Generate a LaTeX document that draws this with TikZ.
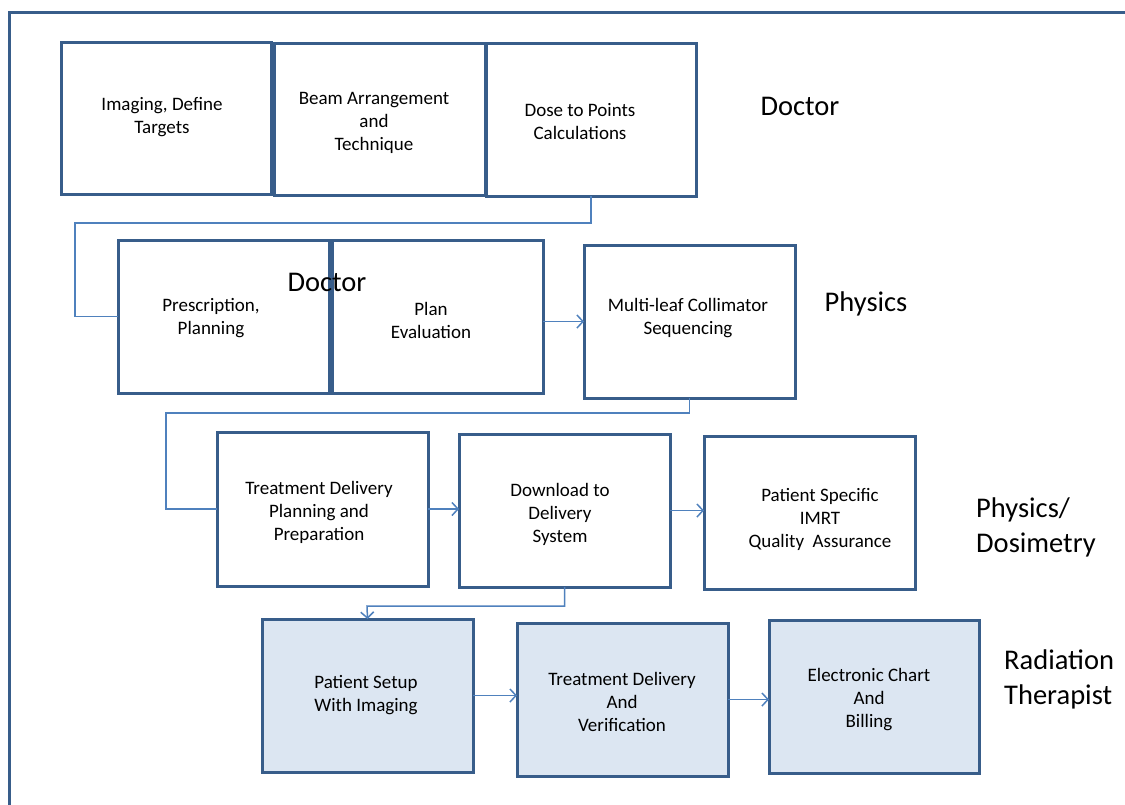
\documentclass[tikz,border=0pt]{standalone}
\usepackage{fontspec}
\setmainfont{Carlito}
\usetikzlibrary{arrows.meta}
\definecolor{boxline}{RGB}{56,93,138}
\definecolor{connline}{RGB}{79,129,189}
\definecolor{boxfill}{RGB}{220,230,242}
\tikzset{
  stagebox/.style={draw=boxline, line width=3pt, fill=white, inner sep=0pt, outer sep=0pt},
  shaded/.style={stagebox, fill=boxfill},
  boxtext/.style={align=center, inner sep=0pt, font=\fontsize{19}{23}\selectfont},
  role/.style={align=left, inner sep=0pt, font=\fontsize{28.5}{35}\selectfont},
  conn/.style={draw=connline, line width=1.5pt},
  flow/.style={conn, -{Straight Barb[length=6pt,width=13pt,line width=1.5pt]}},
}
\newcommand{\stage}[6]{% name, style, x0, y0, x1, y1
  \node[#2, minimum width={#5-#3}, minimum height={#6-#4}] (#1) at ({(#3+#5)/2},{(#4+#6)/2}) {};}
\begin{document}
\begin{tikzpicture}[x=1pt,y=-1pt]
\useasboundingbox (0,0) rectangle (1125,804);
\fill[white] (0,0) rectangle (1125,804);
% outer frame
\draw[boxline, line width=3pt] (9,806) -- (9,12) -- (1127,12);

% row 1
\stage{a}{stagebox}{61}{42}{271}{194}
\stage{b}{stagebox}{274}{43}{485}{195}
\stage{c}{stagebox}{486}{43}{696}{196}
% row 2
\stage{d}{stagebox}{118}{240}{329}{393}
\stage{e}{stagebox}{332}{240}{543}{393}
\stage{f}{stagebox}{584}{245}{795}{398}
% row 3
\stage{g}{stagebox}{217}{432}{428}{586}
\stage{h}{stagebox}{459}{434}{670}{587}
\stage{i}{stagebox}{704}{436}{915}{589}
% row 4
\stage{j}{shaded}{262}{619}{473}{772}
\stage{k}{shaded}{517}{623}{728}{776}
\stage{l}{shaded}{769}{620}{979}{773}

% box texts
\node[boxtext] (at) at (162,117) {Imaging, Define\\Targets};
\node[boxtext] (bt) at (374,123) {Beam Arrangement\\and\\Technique};
\node[boxtext] (ct) at (580,122) {Dose to Points\\Calculations};
\node[boxtext] (dt) at (211,318) {Prescription,\\Planning};
\node[boxtext] (et) at (431,320) {Plan\\Evaluation};
\node[boxtext] (ft) at (688,318) {Multi-leaf Collimator\\Sequencing};
\node[boxtext] (gt) at (319,512) {Treatment Delivery\\Planning and\\Preparation};
\node[boxtext] (ht) at (560,514) {Download to\\Delivery\\System};
\node[boxtext] (it) at (820,519) {Patient Specific\\IMRT\\Quality\ \ Assurance};
\node[boxtext] (jt) at (366,695) {Patient Setup\\With Imaging};
\node[boxtext] (kt) at (622,702) {Treatment Delivery\\And\\Verification};
\node[boxtext] (lt) at (869,700) {Electronic Chart\\And\\Billing};

% role labels
\node[role] (r1) at (800,106) {Doctor};
\node[role] (r2) at (327,282) {Doctor};
\node[role] (r3) at (866,304) {Physics};
\node[role, anchor=west] (r4) at (976,527) {Physics/\\Dosimetry};
\node[role, anchor=west] (r5) at (1004,679) {Radiation\\Therapist};

% connectors
\coordinate (j1) at (75,223);
\coordinate (j2) at (166,413);
\coordinate (j3) at (367,606);
\draw[conn] (c.south) |- (j1) |- (d.west);
\draw[conn] (f.south) |- (j2) |- (g.west);
\draw[flow] (h.south) |- (j3) -- (j.north);
\draw[flow] (e.east |- f.west) -- (f.west);
\draw[flow] (g.east) -- (g.east -| h.west);
\draw[flow] (h.east) -- (h.east -| i.west);
\draw[flow] (j.east) -- (j.east -| k.west);
\draw[flow] (k.east) -- (k.east -| l.west);
\end{tikzpicture}
\end{document}
